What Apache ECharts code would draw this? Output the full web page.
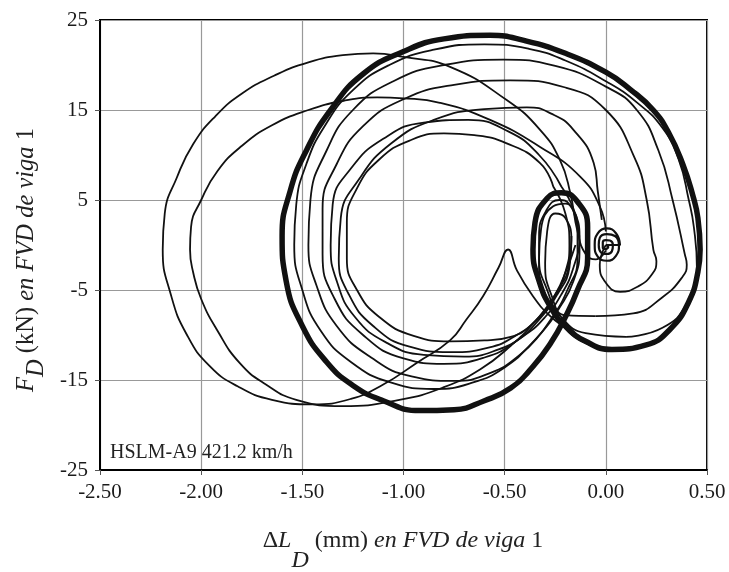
<!DOCTYPE html>
<html>
<head>
<meta charset="utf-8">
<script src="https://cdn.jsdelivr.net/npm/echarts/dist/echarts.min.js"></script>
<style>
html,body{margin:0;padding:0;background:#fff;}
#chart{width:729px;height:572px;}
</style>
</head>
<body>
<div id="chart"></div>
<script>
// ---- axis settings ----
const xMin = -2.5, xMax = 0.5, xStep = 0.5;
const yMin = -25, yMax = 25, yStep = 10;
const xTitleParts = ['Δ', 'L', 'D', ' (mm) ', 'en FVD de viga', ' 1'];
const yTitleParts = ['F', 'D', ' (kN) ', 'en FVD de viga', ' 1'];
const noteText = 'HSLM-A9 421.2 km/h';

// ---- data: [ΔL_D (mm), F_D (kN)] ----
const originSpiral = [
  [0.0,0],[0.07,0],[0.05,1.3],[0.005,1.85],[-0.04,1.3],[-0.055,0],[-0.04,-1.3],[0.005,-1.75],[0.05,-1.2],[0.065,0],
  [0.045,1.0],[0.005,1.2],[-0.03,0.8],[-0.035,0],[-0.025,-0.8],[0.005,-1.0],[0.03,-0.7],[0.035,0],
  [0.02,0.5],[0.0,0.55],[-0.015,0.3],[-0.015,-0.3],[0.0,-0.45],[0.012,-0.2],[0.0,0]
];
const firstCycle = [
  [0.0,0],[-0.02,-1],[-0.03,-2.2],[0.0,-4.2],[0.07,-5.2],[0.16,-4.6],[0.23,-3.2],[0.25,-1.8],[0.235,-0.55],
  [0.202,5],[0.14,9.8],[0.0,15.0],[-0.2,17.5],[-0.473,18.3],[-0.75,17.8],[-1.0,16.2],[-1.2,13.2],[-1.33,9],
  [-1.40,4],[-1.40,-1],[-1.34,-6],[-1.2,-10],[-1.0,-12.6],[-0.8,-13.2],[-0.6,-12.5],[-0.45,-10.8],[-0.33,-8.3],
  [-0.24,-5.5],[-0.18,-2.5],[-0.17,0.5],[-0.2,3],[-0.25,3.5],[-0.29,1.5],[-0.3,-2],[-0.27,-5.5],[-0.2,-7.8],
  [-0.05,-7.9]
];
const secondCycle = [
  [-0.05,-7.9],[0.135,-7.6],[0.28,-5.8],[0.38,-3.5],[0.40,-2.2],[0.39,-1.0],[0.33,5],[0.26,10.5],[0.153,15],
  [0.0,17.6],[-0.25,19.9],[-0.508,20.6],[-0.8,20.0],[-1.05,18.2],[-1.25,15],[-1.38,10.5],[-1.46,5],[-1.47,0],
  [-1.43,-4.5],[-1.33,-9],[-1.16,-12.5],[-0.96,-14.6],[-0.75,-15.1],[-0.57,-14.2],[-0.43,-12.3],[-0.32,-9.8],
  [-0.23,-7],[-0.16,-4],[-0.13,-0.5],[-0.15,3],[-0.2,4.6],[-0.26,4.3],[-0.32,1.8],[-0.33,-1.5],[-0.29,-5],
  [-0.22,-8],[-0.1,-9.8],[0.1,-10.2]
];
const thirdCycle = [
  [0.1,-10.2],[0.28,-9.2],[0.4,-6.5],[0.45,-2.5],[0.435,2],[0.41,5],[0.36,9.5],[0.28,13],[0.15,15.9],[0.0,18.2],
  [-0.2,20.5],[-0.38,21.8],[-0.6,22.3],[-0.85,21.7],[-1.07,20.0],[-1.25,17.2],[-1.39,13.2],[-1.48,9],[-1.53,4.5],
  [-1.54,0],[-1.5,-5],[-1.41,-9.5],[-1.26,-13],[-1.06,-15.3],[-0.85,-16],[-0.66,-15.3],[-0.5,-13.6],[-0.37,-11],
  [-0.27,-8.2],[-0.19,-5],[-0.14,-1.5],[-0.14,2],[-0.18,4.5],[-0.23,5],[-0.29,4],[-0.33,1],[-0.33,-2.5],
  [-0.29,-6],[-0.22,-8.8],[-0.1,-10.9],[0.03,-11.6]
];
const steadyCycle = [
  [0.466,-0.5],[0.455,3],[0.43,5.5],[0.38,9],[0.31,12.5],[0.234,15],[0.12,17.3],[0.0,19.2],[-0.2,21.3],
  [-0.4,22.7],[-0.572,23.3],[-0.8,22.9],[-1.0,21.5],[-1.2,19.0],[-1.36,15.0],[-1.48,10.5],[-1.56,6],[-1.6,1],
  [-1.58,-4],[-1.5,-9],[-1.38,-13],[-1.25,-15.6],[-1.1,-17.3],[-0.92,-18.4],[-0.75,-18.3],[-0.6,-17.3],
  [-0.47,-15.9],[-0.36,-13.5],[-0.27,-10.8],[-0.2,-8],[-0.14,-5],[-0.09,-1.5],[-0.09,2],[-0.14,4.8],[-0.22,5.8],
  [-0.29,5.2],[-0.35,2.5],[-0.36,-0.5],[-0.33,-4],[-0.27,-7],[-0.2,-9],[-0.1,-10.7],[0.03,-11.6],[0.2,-11.1],
  [0.32,-9.3],[0.41,-6.3],[0.455,-3],[0.466,-0.5]
];
const endLoop1 = [
  [-0.22,6.5],[-0.33,10],[-0.48,12.6],[-0.68,13.9],[-0.9,13.6],[-1.1,11.8],[-1.26,8.5],[-1.35,4.5],[-1.36,0],
  [-1.33,-4],[-1.24,-8],[-1.08,-10.9],[-0.9,-12.2],[-0.7,-12.4],[-0.53,-11.6],[-0.4,-10],[-0.3,-8],[-0.22,-5.5],
  [-0.16,-2.5],[-0.13,1],[-0.16,4],[-0.22,6.5]
];
const endLoop2 = [
  [-0.02,2.8],[-0.04,6],[-0.06,9.1],[-0.16,12.8],[-0.27,14.6],[-0.39,15.3],[-0.6,15.1],[-0.85,13.9],[-1.06,11.3],
  [-1.22,7.3],[-1.31,3],[-1.32,-1.5],[-1.27,-5.5],[-1.15,-9],[-0.97,-11.3],[-0.77,-11.9],[-0.58,-11.4],[-0.44,-10],
  [-0.33,-8],[-0.25,-5.5],[-0.19,-2.5],[-0.15,0]
];
const endLoop3 = [
  [-0.26,6.5],[-0.325,9.1],[-0.49,11.3],[-0.65,12.2],[-0.8,12.4],[-0.97,11.6],[-1.12,9.5],[-1.23,6.3],[-1.28,2.5],
  [-1.28,-1.5],[-1.23,-5],[-1.12,-8],[-0.95,-10.1],[-0.77,-10.7],[-0.6,-10.6],[-0.47,-10.2],[-0.35,-8.5],
  [-0.26,-6],[-0.2,-3],[-0.18,0],[-0.2,3.5],[-0.26,6.5]
];
const outerArcB = [
  [0.0,1.5],[-0.03,4.3],[-0.127,7.6],[-0.325,10.9],[-0.572,13.9],[-0.82,15.8],[-1.0,16.3],[-1.13,16.4],
  [-1.3,16.0],[-1.47,15.0],[-1.65,13.3],[-1.8,11],[-1.92,8.2],[-2.0,5],[-2.05,2],[-2.055,-0.5],[-2.04,-3],
  [-2.0,-6],[-1.92,-9.5],[-1.81,-13.1],[-1.68,-15.5],[-1.53,-17.2],[-1.3,-17.9],[-1.02,-17.2],[-0.8,-15.8],
  [-0.62,-13.8],[-0.47,-11.2],[-0.35,-8.5],[-0.25,-5.5],[-0.18,-2],[-0.17,1]
];
const outerArcA = [
  [0.03,-11.6],[-0.1,-10.7],[-0.2,-9.2],[-0.28,-7.8],[-0.36,-5.7],[-0.44,-2.8],[-0.483,-0.5],[-0.53,-2.5],
  [-0.607,-5.7],[-0.69,-8.3],[-0.77,-10.6],[-0.935,-13.1],[-1.1,-15.5],[-1.26,-17.1],[-1.45,-17.7],[-1.65,-17.2],
  [-1.82,-15.7],[-1.96,-13.4],[-2.07,-10],[-2.15,-5.5],[-2.19,-0.5],[-2.18,3.5],[-2.12,7.5],[-2.04,11.2],
  [-1.93,14.3],[-1.8,16.8],[-1.64,18.8],[-1.47,20.3],[-1.3,21.1],[-1.15,21.3],[-1.0,20.9],[-0.77,19.8],
  [-0.49,16.1],[-0.325,12.8],[-0.226,9.4],[-0.176,5.8],[-0.14,1.5],[-0.1,-1],[-0.05,-1.6],[0.0,-0.6]
];

const thinPaths = [firstCycle, secondCycle, thirdCycle, endLoop1, endLoop2, endLoop3, outerArcB, outerArcA];

const FONT = 'Liberation Serif';
const chart = echarts.init(document.getElementById('chart'), null, {renderer: 'canvas'});

const series = [];
thinPaths.forEach(function (p) {
  series.push({type: 'line', data: p, showSymbol: false, smooth: 0.5, silent: true,
    lineStyle: {color: '#111', width: 1.8}});
});
series.push({type: 'line', data: steadyCycle, showSymbol: false, smooth: 0.5, silent: true,
  lineStyle: {color: '#111', width: 5.5}});
series.push({type: 'line', data: originSpiral, showSymbol: false, smooth: 0.5, silent: true,
  lineStyle: {color: '#111', width: 2.2}});

function richTitle(parts, styles) {
  return parts.map(function (t, k) { return '{' + styles[k] + '|' + t + '}'; }).join('');
}

const option = {
  animation: false,
  backgroundColor: '#fff',
  grid: {left: 100, top: 20, width: 607, height: 450, show: true, borderColor: '#000', borderWidth: 2, backgroundColor: 'transparent'},
  xAxis: {
    type: 'value', min: xMin, max: xMax, interval: xStep,
    axisLine: {show: true, onZero: false, lineStyle: {color: '#000', width: 2}},
    axisTick: {show: true, inside: false, length: 5, lineStyle: {color: '#555'}},
    axisLabel: {fontFamily: FONT, fontSize: 21, color: '#1a1a1a', margin: 12, formatter: function (v) { return v.toFixed(2); }},
    splitLine: {show: true, lineStyle: {color: '#999', width: 1.2}}
  },
  yAxis: {
    type: 'value', min: yMin, max: yMax, interval: yStep,
    axisLine: {show: true, onZero: false, lineStyle: {color: '#000', width: 2}},
    axisTick: {show: true, inside: false, length: 5, lineStyle: {color: '#555'}},
    axisLabel: {fontFamily: FONT, fontSize: 21, color: '#1a1a1a', margin: 12},
    splitLine: {show: true, lineStyle: {color: '#999', width: 1.2}}
  },
  graphic: [
    {
      type: 'text', left: 110, top: 443, silent: true,
      style: {text: noteText, font: '20px "Liberation Serif"', fill: '#222'}
    },
    {
      type: 'text', x: 403, y: 529, silent: true,
      style: {
        text: richTitle(xTitleParts, ['n', 'i', 's', 'n', 'i', 'n']),
        align: 'center', verticalAlign: 'top', fill: '#222',
        rich: {
          n: {fontFamily: FONT, fontSize: 24, lineHeight: 26, verticalAlign: 'top', fill: '#222'},
          i: {fontFamily: FONT, fontSize: 24, fontStyle: 'italic', lineHeight: 26, verticalAlign: 'top', fill: '#222'},
          s: {fontFamily: FONT, fontSize: 24, fontStyle: 'italic', lineHeight: 44, verticalAlign: 'bottom', fill: '#222'}
        }
      }
    },
    {
      type: 'text', x: 14, y: 260, rotation: Math.PI / 2, silent: true,
      style: {
        text: richTitle(yTitleParts, ['i', 's', 'n', 'i', 'n']),
        align: 'center', verticalAlign: 'top', fill: '#222',
        rich: {
          n: {fontFamily: FONT, fontSize: 24.5, lineHeight: 26, verticalAlign: 'top', fill: '#222'},
          i: {fontFamily: FONT, fontSize: 24.5, fontStyle: 'italic', lineHeight: 26, verticalAlign: 'top', fill: '#222'},
          s: {fontFamily: FONT, fontSize: 24.5, fontStyle: 'italic', lineHeight: 35, verticalAlign: 'bottom', fill: '#222'}
        }
      }
    }
  ],
  series: series
};
chart.setOption(option);
</script>
</body>
</html>
